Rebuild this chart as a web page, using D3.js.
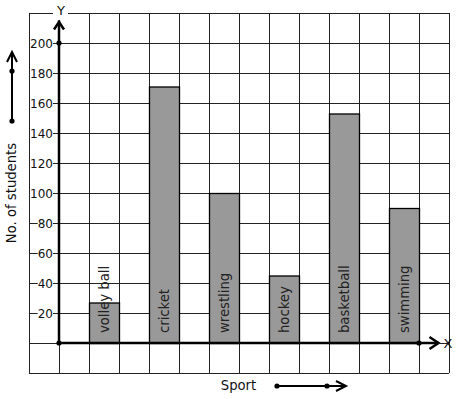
<!DOCTYPE html>
<html><head><meta charset="utf-8">
<script src="https://cdn.jsdelivr.net/npm/d3@7"></script>
<style>
html,body{margin:0;padding:0;background:#fff;}
svg{display:block;font-family:"DejaVu Sans",sans-serif;}
</style></head>
<body>
<script>
const categories = ["volley ball","cricket","wrestling","hockey","basketball","swimming"];
const values = [27,171,100,45,153,90];
const yTicks = [20,40,60,80,100,120,140,160,180,200];

const W = 457, H = 399;
const svg = d3.select("body").append("svg").attr("width", W).attr("height", H);

const y = d3.scaleLinear().domain([-20, 220]).range([373, 13]);
const xg = d3.scaleLinear().domain([-1, 13]).range([29, 449]);
const x = d3.scaleBand().domain(categories).range([74, 434]).paddingInner(0.5).paddingOuter(0.25);

// grid
const grid = svg.append("g").attr("stroke", "#222").attr("stroke-width", 1).attr("shape-rendering", "crispEdges");
grid.selectAll("line.v").data(d3.range(-1, 14)).join("line")
  .attr("x1", d => xg(d) + 0.5).attr("x2", d => xg(d) + 0.5)
  .attr("y1", y(220)).attr("y2", y(-20));
grid.selectAll("line.h").data(d3.range(-20, 221, 20)).join("line")
  .attr("x1", xg(-1)).attr("x2", xg(13))
  .attr("y1", d => y(d) + 0.5).attr("y2", d => y(d) + 0.5);

// bars
svg.append("g").selectAll("rect").data(values).join("rect")
  .attr("x", (d, i) => x(categories[i]) + 0.5)
  .attr("y", d => y(d) + 0.5)
  .attr("width", x.bandwidth())
  .attr("height", d => y(0) - y(d))
  .attr("fill", "#999").attr("stroke", "#000").attr("stroke-width", 1.3);

// bar labels
svg.append("g").selectAll("text").data(categories).join("text")
  .attr("transform", d => `translate(${x(d) + x.bandwidth() / 2 + 5},${y(0) - 10}) rotate(-90)`)
  .attr("font-size", 13.2).attr("fill", "#222")
  .text(d => d);

// y tick labels
const yAxis = svg.append("g").attr("transform", `translate(${xg(0)},0)`)
  .call(d3.axisLeft(y).tickValues(yTicks).tickSize(0).tickPadding(6));
yAxis.select(".domain").remove();
yAxis.selectAll("text").attr("font-size", 12).attr("font-family", "DejaVu Sans").attr("fill", "#111").attr("dy", "0.36em");
yAxis.selectAll(".tick").each(function () {
  const t = d3.select(this).select("text");
  const b = t.node().getBBox();
  d3.select(this).insert("rect", "text")
    .attr("x", b.x).attr("y", b.y + 2).attr("width", b.width).attr("height", b.height - 4)
    .attr("fill", "#fff");
});

// axes
const ax = svg.append("g").attr("stroke", "#000").attr("fill", "none").attr("stroke-width", 2.5);
ax.append("line").attr("x1", xg(0)).attr("x2", xg(0)).attr("y1", y(0)).attr("y2", y(215));
ax.append("path").attr("d", `M${xg(0) - 5},${y(209)}L${xg(0)},${y(214)}L${xg(0) + 5},${y(209)}`);
ax.append("line").attr("x1", xg(0)).attr("x2", xg(12.65)).attr("y1", y(0)).attr("y2", y(0));
ax.append("path").attr("d", `M${xg(12.35)},${y(4)}L${xg(12.65)},${y(0)}L${xg(12.35)},${y(-4)}`);
svg.append("line").attr("x1", xg(12.65)).attr("x2", xg(12.8)).attr("y1", y(0) + 0.5).attr("y2", y(0) + 0.5).attr("stroke", "#222");
svg.append("g").selectAll("circle").data([[0, 0], [0, 200], [12, 0]]).join("circle")
  .attr("cx", d => xg(d[0])).attr("cy", d => y(d[1])).attr("r", 2.6).attr("fill", "#000");

// Y and X letters
svg.append("rect").attr("x", 53).attr("y", 4).attr("width", 15).attr("height", 16).attr("fill", "#fff");
svg.append("text").attr("x", 61).attr("y", 15).attr("text-anchor", "middle").attr("font-size", 13).attr("fill", "#111").text("Y");
svg.append("text").attr("x", 448).attr("y", 348).attr("text-anchor", "middle").attr("font-size", 13).attr("fill", "#111").text("X");

// axis titles
svg.append("text").attr("transform", "translate(16,193) rotate(-90)").attr("text-anchor", "middle")
  .attr("font-size", 13.2).attr("fill", "#111").text("No. of students");
svg.append("text").attr("x", 238.5).attr("y", 390).attr("text-anchor", "middle")
  .attr("font-size", 13.2).attr("fill", "#111").text("Sport");

// decorative arrows
const da = svg.append("g").attr("stroke", "#000").attr("fill", "none").attr("stroke-width", 2);
da.append("line").attr("x1", 12).attr("x2", 12).attr("y1", 121).attr("y2", 53);
da.append("path").attr("d", "M7,62L12,52L17,62");
da.append("line").attr("x1", 277).attr("x2", 345).attr("y1", 386).attr("y2", 386);
da.append("path").attr("d", "M336,381L346,386L336,391");
svg.append("g").selectAll("circle").data([[12, 71], [12, 121], [277, 386], [327, 386]]).join("circle")
  .attr("cx", d => d[0]).attr("cy", d => d[1]).attr("r", 2.6).attr("fill", "#000");
</script>
</body></html>
